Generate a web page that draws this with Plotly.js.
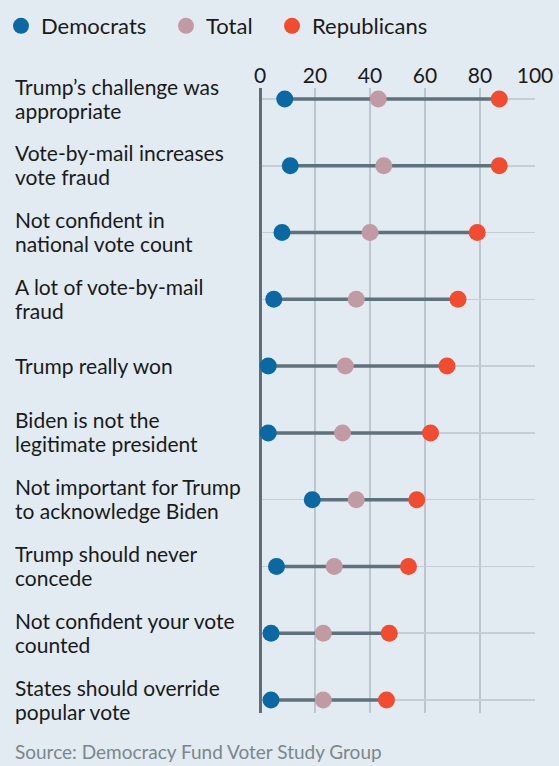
<!DOCTYPE html>
<html>
<head>
<meta charset="utf-8">
<script src="https://cdn.plot.ly/plotly-3.0.1.min.js"></script>
<style>
html,body{margin:0;padding:0;background:#e1ebf1;}
#chart{width:559px;height:766px;}
</style>
</head>
<body>
<div id="chart"></div>
<script>
var categories = [
  "Trump’s challenge was<br>appropriate",
  "Vote-by-mail increases<br>vote fraud",
  "Not confident in<br>national vote count",
  "A lot of vote-by-mail<br>fraud",
  "Trump really won",
  "Biden is not the<br>legitimate president",
  "Not important for Trump<br>to acknowledge Biden",
  "Trump should never<br>concede",
  "Not confident your vote<br>counted",
  "States should override<br>popular vote"
];
var democrats   = [9, 11, 8, 5, 3, 3, 19, 6, 4, 4];
var total       = [43, 45, 40, 35, 31, 30, 35, 27, 23, 23];
var republicans = [87, 87, 79, 72, 68, 62, 57, 54, 47, 46];
var xTicks = [0, 20, 40, 60, 80, 100];
var sourceText = "Source: Democracy Fund Voter Study Group";

var FONT = "Lato, 'Open Sans', sans-serif";
var L = 260, W = 275, T = 88, H = 625;
function px2x(p){ return (p - L) / W; }
function px2y(p){ return 1 - (p - T) / H; }

var rows = categories.map(function(_, i){ return i; });

var cx = [], cy = [];
rows.forEach(function(i){
  cx.push(democrats[i], republicans[i], null);
  cy.push(i, i, null);
});

var traces = [
  {x: cx, y: cy, mode: 'lines', type: 'scatter', showlegend: false, hoverinfo: 'skip',
   line: {color: '#5f727c', width: 3.5}, cliponaxis: false},
  {x: democrats, y: rows, name: 'Democrats', mode: 'markers', type: 'scatter', legend: 'legend',
   marker: {color: '#0a68a2', size: 17}, cliponaxis: false},
  {x: total, y: rows, name: 'Total', mode: 'markers', type: 'scatter', legend: 'legend2',
   marker: {color: '#c19aa3', size: 17}, cliponaxis: false},
  {x: republicans, y: rows, name: 'Republicans', mode: 'markers', type: 'scatter', legend: 'legend3',
   marker: {color: '#f14b30', size: 17}, cliponaxis: false}
];

var annotations = [];
var LH = 24;
categories.forEach(function(cat, i){
  var lines = cat.split('<br>');
  var n = lines.length;
  lines.forEach(function(t, j){
    annotations.push({
      text: t, xref: 'paper', x: px2x(13), xanchor: 'left',
      yref: 'y', y: i, yanchor: 'middle', yshift: ((n - 1) / 2 - j) * LH + 1,
      showarrow: false, align: 'left',
      font: {family: FONT, size: 21, color: '#1a1a1a'}
    });
  });
});
annotations.push({
  text: sourceText, xref: 'paper', x: px2x(13), xanchor: 'left',
  yref: 'paper', y: px2y(751), yanchor: 'middle', showarrow: false,
  font: {family: FONT, size: 19, color: '#7b868c'}
});

function legendAt(leftPx){
  return {orientation: 'h', x: px2x(leftPx), xanchor: 'left', y: px2y(26), yanchor: 'middle',
          font: {family: FONT, size: 22, color: '#1a1a1a'}, bgcolor: 'rgba(0,0,0,0)',
          borderwidth: 0, itemclick: false, itemdoubleclick: false};
}

var layout = {
  width: 559, height: 766,
  margin: {l: L, r: 559 - L - W, t: T, b: 766 - T - H, pad: 0, autoexpand: false},
  paper_bgcolor: '#e1ebf1', plot_bgcolor: '#e1ebf1',
  font: {family: FONT, size: 21, color: '#1a1a1a'},
  showlegend: true,
  legend: legendAt(1),
  legend2: legendAt(166),
  legend3: legendAt(272),
  xaxis: {range: [0, 100], side: 'top', tickvals: xTicks, ticktext: xTicks.map(String),
          showgrid: true, gridcolor: '#bac7d0', gridwidth: 1.5,
          zeroline: true, zerolinecolor: '#5f6d76', zerolinewidth: 3,
          showline: false, ticks: '', fixedrange: true, automargin: false,
          tickfont: {family: FONT, size: 21, color: '#1a1a1a'}},
  yaxis: {range: [9 + 13 / 66.8, -11 / 66.8], tickvals: rows, showticklabels: false,
          showgrid: true, gridcolor: '#c3cfd7', gridwidth: 1.5, zeroline: false,
          ticks: '', fixedrange: true, automargin: false},
  annotations: annotations
};

Plotly.newPlot('chart', traces, layout, {displayModeBar: false, staticPlot: true});
</script>
</body>
</html>
